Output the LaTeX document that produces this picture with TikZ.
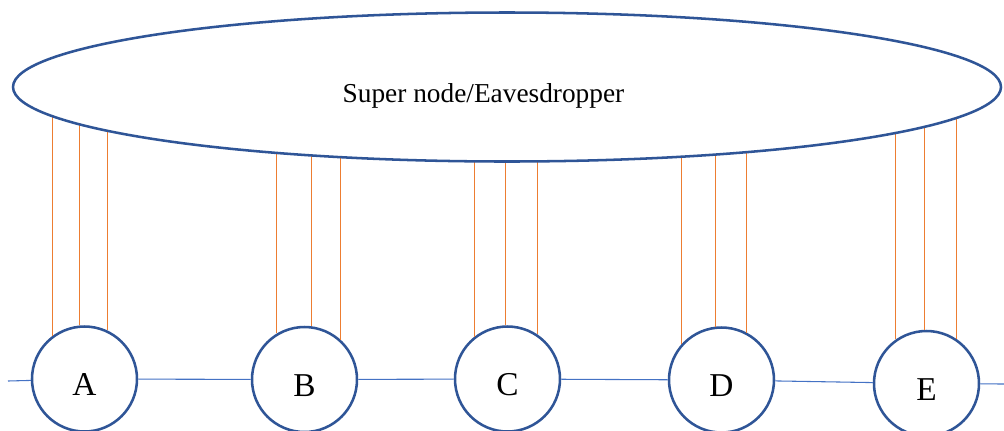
\documentclass[tikz,border=0pt]{standalone}
\usepackage{fontspec}
\setmainfont{Liberation Serif}
\usetikzlibrary{shapes.geometric}
\definecolor{ringblue}{HTML}{2F5597}
\definecolor{busblue}{HTML}{4472C4}
\definecolor{taporange}{HTML}{ED7D31}
\begin{document}
\begin{tikzpicture}[
  x=0.75pt, y=-0.75pt,
  station/.style={circle, draw=ringblue, line width=1.9pt, fill=white,
    minimum size=78.75pt, inner sep=0pt, font=\fontsize{25}{30}\selectfont,
    text height=25pt, text depth=0pt},
  hub/.style={ellipse, draw=ringblue, line width=1.9pt, fill=white,
    inner sep=0pt, minimum width=741pt, minimum height=111.75pt},
  tap/.style={draw=taporange, line width=0.8pt},
  bus/.style={draw=busblue, line width=0.8pt}
]
  \useasboundingbox (0,0) rectangle (1004,430);
  \coordinate (hubc) at (507,87);

  % ordinary nodes on the line
  \node[station] (A) at (84.5,379) {A};
  \node[station] (B) at (304.5,379.5) {B};
  \node[station] (C) at (507.5,379) {C};
  \node[station] (D) at (721.5,380) {D};
  \node[station] (E) at (926.5,383.5) {E};

  \coordinate (west) at (8,381);
  \coordinate (east) at (1004,384);
  \draw[bus] (west) -- (A);
  \draw[bus] (A) -- (B);
  \draw[bus] (B) -- (C);
  \draw[bus] (C) -- (D);
  \draw[bus] (D) -- (E);
  \draw[bus] (E) -- (east);

  % eavesdropping links
  \foreach \n/\a in {A/127,A/95,A/65, B/121,B/83,B/48, C/128,C/92,C/56,
                     D/138,D/96,D/62, E/125,E/92,E/56}
    \draw[tap] (\n.\a) -- (\n.\a |- hubc);

  % super node (covers the upper link ends)
  \node[hub] (sup) at (hubc) {};
  \node[anchor=base, font=\fontsize{20.5}{24}\selectfont] (suptext)
    at (483.5,102) {Super node/Eavesdropper};
\end{tikzpicture}
\end{document}
